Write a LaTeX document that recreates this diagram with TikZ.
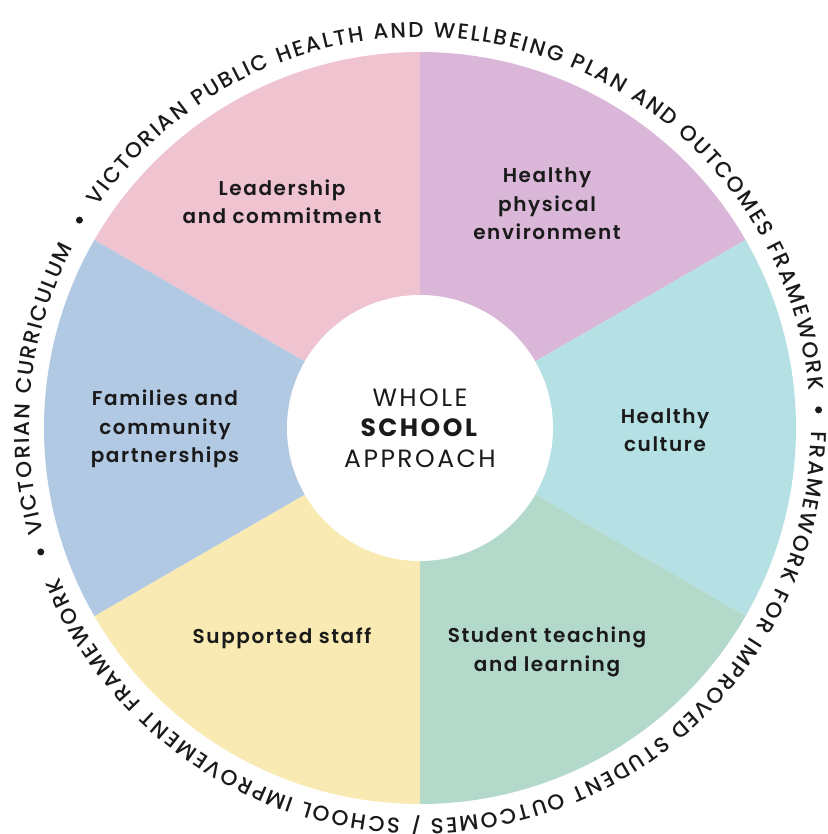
\documentclass[tikz,border=0pt]{standalone}
\usepackage{fontspec}
\setmainfont{Poppins}
\newfontfamily\ringfont{Poppins Medium}
\newfontfamily\hubfont{Poppins}[LetterSpace=10]
\newfontfamily\labfont{Poppins SemiBold}[LetterSpace=8]
\usetikzlibrary{decorations.text}
\definecolor{cpink}{HTML}{EFC3D0}
\definecolor{cpurple}{HTML}{DAB7D8}
\definecolor{ccyan}{HTML}{B5E1E5}
\definecolor{cgreen}{HTML}{B3D9CB}
\definecolor{cyellow}{HTML}{F9EAB4}
\definecolor{cblue}{HTML}{B2C9E4}
\definecolor{ctext}{HTML}{1A1A1A}
\tikzset{
  seglabel/.style={align=center, font=\labfont\fontsize{20}{28.5}\selectfont, text=ctext},
  ringtext/.style={decorate, decoration={text along path, text align={fit to path}, text={#1}}},
  ringdot/.style={fill=ctext},
}
\begin{document}
\begin{tikzpicture}[x=1pt,y=1pt]
\useasboundingbox (-420,-406) rectangle (407,428);
\def\R{376}
% segments
\fill[cpink]   (0,0) -- (90:\R)  arc[start angle=90,  end angle=150, radius=\R] -- cycle;
\fill[cpurple] (0,0) -- (30:\R)  arc[start angle=30,  end angle=90,  radius=\R] -- cycle;
\fill[ccyan]   (0,0) -- (-30:\R) arc[start angle=-30, end angle=30,  radius=\R] -- cycle;
\fill[cgreen]  (0,0) -- (-90:\R) arc[start angle=-90, end angle=-30, radius=\R] -- cycle;
\fill[cyellow] (0,0) -- (210:\R) arc[start angle=210, end angle=270, radius=\R] -- cycle;
\fill[cblue]   (0,0) -- (150:\R) arc[start angle=150, end angle=210, radius=\R] -- cycle;
% centre
\node[circle, fill=white, minimum size=266, inner sep=0, align=center,
      font=\hubfont\fontsize{25}{30.5}\selectfont, text=ctext] (hub) at (0,0)
      {WHOLE\\\textbf{SCHOOL}\\APPROACH};
% labels
\node[seglabel] (lead) at (-138,226) {Leadership\\and commitment};
\node[seglabel] (phys) at (127,224) {Healthy\\physical\\environment};
\node[seglabel] (cult) at (245,-2) {Healthy\\culture};
\node[seglabel] (stud) at (127,-224) {Student teaching\\and learning};
\node[seglabel] (staff) at (-138,-210) {Supported staff};
\node[seglabel] (fam) at (-255,-1) {Families and\\community\\partnerships};
% ring text
\path[ringtext={|\ringfont\fontsize{21.5}{24}\selectfont\color{ctext}|VICTORIAN PUBLIC HEALTH AND WELLBEING PLAN AND OUTCOMES FRAMEWORK}]
  (145.5:391) arc[start angle=145.5, end angle=5.5, radius=391];
\path[ringtext={|\ringfont\fontsize{21.5}{24}\selectfont\color{ctext}|FRAMEWORK FOR IMPROVED STUDENT OUTCOMES / SCHOOL IMPROVEMENT FRAMEWORK}]
  (-0.5:391) arc[start angle=-0.5, end angle=-157.5, radius=391];
\path[ringtext={|\ringfont\fontsize{21.5}{24}\selectfont\color{ctext}|VICTORIAN CURRICULUM}]
  (195.5:391) arc[start angle=195.5, end angle=152.5, radius=391];
% dots
\fill[ringdot] (148.6:399) circle (3.5);
\fill[ringdot] (2.6:399) circle (3.5);
\fill[ringdot] (198.1:399) circle (3.5);
\end{tikzpicture}
\end{document}
